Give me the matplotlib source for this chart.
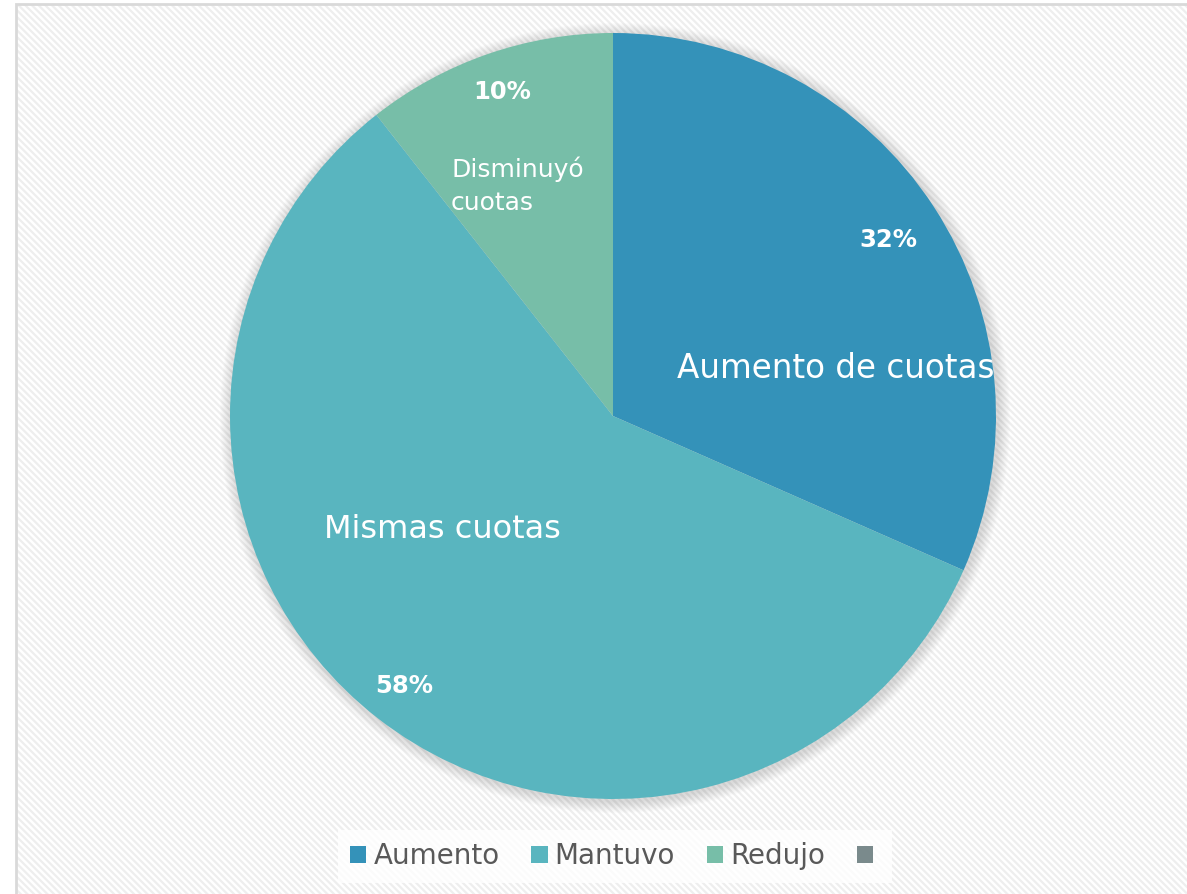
import matplotlib
matplotlib.use("Agg")
import matplotlib.pyplot as plt
from matplotlib.patches import Rectangle, Circle

categories = ["Aumento", "Mantuvo", "Redujo", ""]
values = [31.6, 57.8, 10.6]
pct_labels = ["32%", "58%", "10%"]
slice_labels = ["Aumento de cuotas", "Mismas cuotas", "Disminuyó\ncuotas"]
colors = ["#3492B9", "#59B5BF", "#77BEA8", "#7A8A8C"]

W, H = 1187, 894
plt.rcParams["hatch.linewidth"] = 1.6
fig = plt.figure(figsize=(W / 100, H / 100), dpi=100)
fig.patch.set_facecolor("white")
ax = fig.add_axes([0, 0, 1, 1])

# background with diagonal stripes and border
bg = Rectangle((16, 0), W - 16, H - 4, facecolor="white", edgecolor="#eeeeee",
               hatch="\\\\\\\\\\", linewidth=0, zorder=0)
ax.add_patch(bg)
border = Rectangle((16, -2), W - 14, H - 4 + 2, facecolor="none", edgecolor="#d9d9d9",
                   linewidth=2, zorder=1)
ax.add_patch(border)

cx, cy, r = 613, H - 416, 383
# soft shadow
for k in range(12, 0, -1):
    ax.add_patch(Circle((cx + 2, cy - 2), r + k, facecolor="#808080",
                        edgecolor="none", alpha=0.025, zorder=2))

wedges, _ = ax.pie(values, colors=colors[:3], startangle=90, counterclock=False,
                   center=(cx, cy), radius=r, frame=True,
                   wedgeprops=dict(linewidth=0))
for w in wedges:
    w.set_zorder(3)
ax.set_xlim(0, W)
ax.set_ylim(0, H)
ax.set_aspect("equal")
ax.axis("off")

txt = dict(color="white", zorder=5)
# percentage labels
ax.text(888, H - 240, pct_labels[0], fontsize=17.5, fontweight="bold", ha="center", va="center", **txt)
ax.text(404, H - 686, pct_labels[1], fontsize=17.5, fontweight="bold", ha="center", va="center", **txt)
ax.text(502, H - 92, pct_labels[2], fontsize=17.5, fontweight="bold", ha="center", va="center", **txt)
# category labels
ax.text(836, H - 369, slice_labels[0], fontsize=23.5, ha="center", va="center", **txt)
ax.text(442, H - 529, slice_labels[1], fontsize=23, ha="center", va="center", **txt)
ax.text(451, H - 186, slice_labels[2], fontsize=18, ha="left", va="center",
        linespacing=1.5, **txt)

# legend
handles = [Rectangle((0, 0), 1, 1, facecolor=c, edgecolor="none") for c in colors]
leg = fig.legend(handles, categories, loc="center", bbox_to_anchor=(615 / W, 1 - 856 / H),
                 ncol=4, frameon=True, fontsize=20, handlelength=0.58, handleheight=0.58,
                 handletextpad=0.25, columnspacing=1.15, borderpad=0.45, fancybox=False)
leg.get_frame().set_facecolor("white")
leg.get_frame().set_edgecolor("none")
for t in leg.get_texts():
    t.set_color("#595959")

fig.savefig("out.png", dpi=100, facecolor="white")
